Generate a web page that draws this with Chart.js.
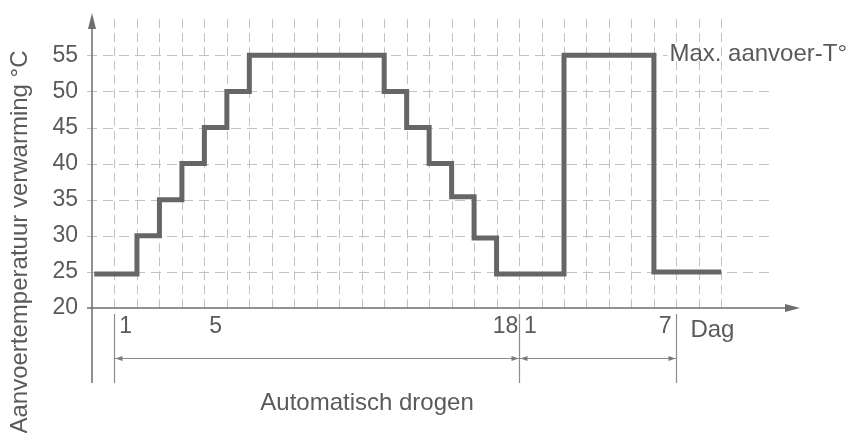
<!DOCTYPE html>
<html>
<head>
<meta charset="utf-8">
<script src="https://cdn.jsdelivr.net/npm/chart.js@4.4.1/dist/chart.umd.min.js"></script>
<style>
  html, body { margin: 0; padding: 0; background: #fff; }
</style>
</head>
<body>
<canvas id="chart" width="847" height="433"></canvas>
<script>
// drying programme: day grid index where each level starts, and flow temperature
const stepDays = [-0.9, 1, 2, 3, 4, 5, 6, 12, 13, 14, 15, 16, 17, 20, 24, 27];
const flowTemps = [24.7, 30, 35, 40, 45, 50, 55, 50, 45, 40, 35.4, 29.7, 24.7, 55, 25, 25];

const tempTicks = [20, 25, 30, 35, 40, 45, 50, 55];
const dayTickPos = [0.5, 4.5, 17.4, 18.5, 24.5];
const dayTickLabels = ['1', '5', '18', '1', '7'];
const phaseBounds = [0, 18, 25];

const FONT = '"Liberation Sans", Arial, sans-serif';
const TEXT = '#5a5a5a';

function arrowHead(ctx, tipX, tipY, dx, dy, len, half) {
  // dx/dy is the unit direction the arrow points to
  ctx.beginPath();
  ctx.moveTo(tipX, tipY);
  ctx.lineTo(tipX - dx * len - dy * half, tipY - dy * len + dx * half);
  ctx.lineTo(tipX - dx * len + dy * half, tipY - dy * len - dx * half);
  ctx.closePath();
  ctx.fill();
}

function noPadding(scale) {
  scale.paddingTop = 0;
  scale.paddingBottom = 0;
  scale.paddingLeft = 0;
  scale.paddingRight = 0;
}

const diagramPlugin = {
  id: 'dryingDiagram',
  beforeDatasetsDraw(chart) {
    const { ctx, scales: { x, y } } = chart;
    ctx.save();
    ctx.strokeStyle = '#c2c2c2';
    ctx.lineWidth = 1;

    // dashed day columns
    ctx.setLineDash([9, 5]);
    for (let d = 0; d <= 27; d++) {
      const px = Math.round(x.getPixelForValue(d)) + 0.5;
      ctx.beginPath();
      ctx.moveTo(px, y.getPixelForValue(60));
      ctx.lineTo(px, y.getPixelForValue(20));
      ctx.stroke();
    }

    // dashed temperature rows
    ctx.setLineDash([10, 6]);
    tempTicks.slice(1).forEach(t => {
      const end = t === 55 ? 24.6 : 29.2;
      const py = Math.round(y.getPixelForValue(t)) + 0.5;
      ctx.beginPath();
      ctx.moveTo(x.left - 5, py);
      ctx.lineTo(x.getPixelForValue(end), py);
      ctx.stroke();
    });
    ctx.restore();
  },
  afterDatasetsDraw(chart) {
    const { ctx, scales: { x, y } } = chart;
    const ox = x.left;
    const oy = y.bottom;
    ctx.save();

    // axes with arrows
    ctx.strokeStyle = '#6e6e6e';
    ctx.fillStyle = '#6e6e6e';
    ctx.lineWidth = 1.5;
    ctx.beginPath();
    ctx.moveTo(ox, y.top + 14);
    ctx.lineTo(ox, oy + 75);
    ctx.moveTo(ox - 5, oy);
    ctx.lineTo(x.right - 14, oy);
    ctx.stroke();
    arrowHead(ctx, ox, y.top + 1, 0, -1, 16, 4);
    arrowHead(ctx, x.right, oy, 1, 0, 15, 4);

    // phase boundaries and dimension arrows
    ctx.strokeStyle = '#8c8c8c';
    ctx.fillStyle = '#7a7a7a';
    ctx.lineWidth = 1.2;
    const dimY = oy + 50.5;
    phaseBounds.forEach(d => {
      const px = Math.round(x.getPixelForValue(d)) + 0.5;
      ctx.beginPath();
      ctx.moveTo(px, oy + 6);
      ctx.lineTo(px, oy + 75);
      ctx.stroke();
    });
    for (let i = 0; i < phaseBounds.length - 1; i++) {
      const a = Math.round(x.getPixelForValue(phaseBounds[i])) + 0.5;
      const b = Math.round(x.getPixelForValue(phaseBounds[i + 1])) + 0.5;
      ctx.beginPath();
      ctx.moveTo(a, dimY);
      ctx.lineTo(b, dimY);
      ctx.stroke();
      arrowHead(ctx, a + 1, dimY, -1, 0, 7, 2.5);
      arrowHead(ctx, b - 1, dimY, 1, 0, 7, 2.5);
    }

    // labels
    ctx.fillStyle = TEXT;
    ctx.font = '24px ' + FONT;
    ctx.textBaseline = 'alphabetic';
    ctx.textAlign = 'left';
    ctx.fillText('Dag', x.getPixelForValue(25) + 14, oy + 29);
    ctx.fillText('Max. aanvoer-T°', x.getPixelForValue(24.6) + 2, y.getPixelForValue(55) + 6);
    ctx.textAlign = 'center';
    ctx.fillText('Automatisch drogen', 367, oy + 102);

    ctx.translate(27, 242);
    ctx.rotate(-Math.PI / 2);
    ctx.fillText('Aanvoertemperatuur verwarming °C', 0, 0);
    ctx.restore();
  }
};

new Chart(document.getElementById('chart'), {
  type: 'line',
  data: {
    datasets: [{
      data: stepDays.map((d, i) => ({ x: d, y: flowTemps[i] })),
      stepped: true,
      borderColor: '#666666',
      borderWidth: 5,
      borderJoinStyle: 'miter',
      borderCapStyle: 'butt',
      pointRadius: 0,
      fill: false
    }]
  },
  options: {
    responsive: false,
    animation: false,
    devicePixelRatio: 1,
    layout: { padding: { top: 12, right: 47, bottom: 0, left: 0 } },
    plugins: { legend: { display: false }, tooltip: { enabled: false } },
    scales: {
      x: {
        type: 'linear',
        min: -1,
        max: 30.5,
        grid: { display: false, drawTicks: false },
        border: { display: false },
        afterBuildTicks: scale => { scale.ticks = dayTickPos.map(v => ({ value: v })); },
        afterFit: scale => { scale.height = 125; noPadding(scale); },
        ticks: {
          autoSkip: false,
          maxRotation: 0,
          padding: 5,
          color: TEXT,
          font: { family: FONT, size: 23 },
          callback: (value, index) => dayTickLabels[index]
        }
      },
      y: {
        min: 20,
        max: 61,
        grid: { display: false, drawTicks: false },
        border: { display: false },
        afterBuildTicks: scale => { scale.ticks = tempTicks.map(v => ({ value: v })); },
        afterFit: scale => { scale.width = 92; noPadding(scale); },
        ticks: {
          padding: 14,
          color: TEXT,
          font: { family: FONT, size: 23 }
        }
      }
    }
  },
  plugins: [diagramPlugin]
});
</script>
</body>
</html>
